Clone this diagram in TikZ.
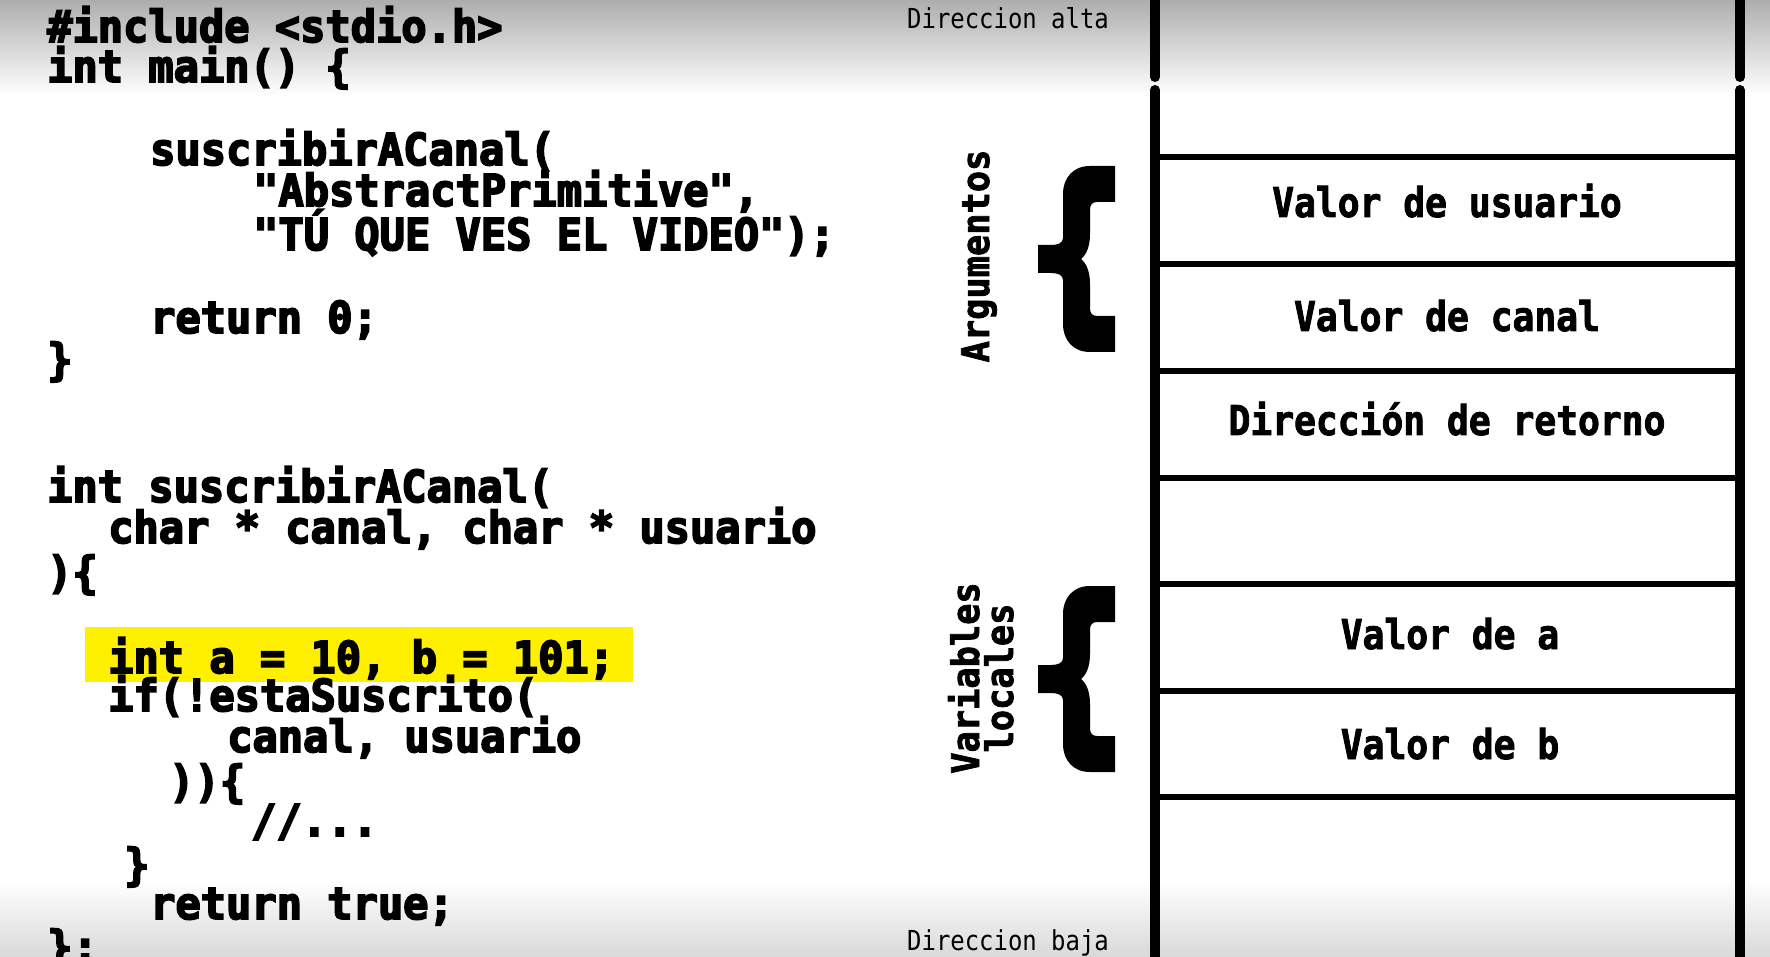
\documentclass[tikz,border=0pt]{standalone}
\usepackage{fontspec}
\newfontfamily\codefont{DejaVu Sans Mono Bold}[FakeStretch=0.955,FakeBold=4]
\newfontfamily\cellfont{DejaVu Sans Mono Bold}[FakeStretch=0.885,FakeBold=2]
\newfontfamily\dirfont{DejaVu Sans Mono}[FakeStretch=0.87]
\newfontfamily\sidefont{DejaVu Sans Mono Bold}[FakeStretch=0.93,FakeBold=2]
\definecolor{hlyellow}{RGB}{255,240,0}
\tikzset{
  code/.style={anchor=base west, inner sep=0pt, font=\codefont\fontsize{44}{44}\selectfont},
  celltext/.style={anchor=base, inner sep=0pt, font=\cellfont\fontsize{41}{41}\selectfont},
  dirtext/.style={anchor=base west, inner sep=0pt, font=\dirfont\fontsize{27.5}{27.5}\selectfont},
  sidetext/.style={anchor=base, inner sep=0pt, rotate=90, font=\sidefont\fontsize{38}{38}\selectfont},
  wall/.style={line width=10pt, line cap=round},
  shelf/.style={line width=6.5pt},
  bracefill/.style={fill=black}
}
\begin{document}
\begin{tikzpicture}[x=1pt,y=-1pt]
\useasboundingbox (0,0) rectangle (1770,957);
\clip (0,0) rectangle (1770,957);
\fill[white] (0,0) rectangle (1770,957);
\shade[top color=black!32, bottom color=white] (0,0) rectangle (1770,95);
\shade[top color=white, bottom color=black!15] (0,880) rectangle (1770,957);

% highlight
\fill[hlyellow] (85,627) rectangle (633,682);

% code
\node[code] (l1) at (47,42) {\#include <stdio.h>};
\node[code] (l2) at (47,82) {int main() \{};
\node[code] (l3) at (150,165) {suscribirACanal(};
\node[code] (l4) at (253,206) {"AbstractPrimitive",};
\node[code] (l5) at (253,250) {"TÚ QUE VES EL VIDEO");};
\node[code] (l6) at (150,333) {return 0;};
\node[code] (l7) at (47,375) {\}};
\node[code] (l8) at (47,502) {int suscribirACanal(};
\node[code] (l9) at (108,543) {char * canal, char * usuario};
\node[code] (l10) at (47,588) {)\{};
\node[code] (l11) at (108,673) {int a = 10, b = 101;};
\node[code] (l12) at (108,711) {if(!estaSuscrito(};
\node[code] (l13) at (227,752) {canal, usuario};
\node[code] (l14) at (169,797) {))\{};
\node[code] (l15) at (251,836) {//...};
\node[code] (l16) at (124,880) {\}};
\node[code] (l17) at (150,919) {return true;};
\node[code] (l18) at (47,962) {\};};

% address labels
\node[dirtext] (alta) at (907,29) {Direccion alta};
\node[dirtext] (baja) at (907,950) {Direccion baja};

% stack walls
\draw[wall] (1155,-10) -- (1155,77);
\draw[wall] (1155,90) -- (1155,970);
\draw[wall] (1740,-10) -- (1740,77);
\draw[wall] (1740,90) -- (1740,970);
\foreach \yy in {157,264,371,478,584,691,797}
  \draw[shelf] (1155,\yy) -- (1740,\yy);

% cell texts
\node[celltext] (usuario) at (1447,217) {Valor de usuario};
\node[celltext] (canal) at (1447,331) {Valor de canal};
\node[celltext] (retorno) at (1447,435) {Dirección de retorno};
\node[celltext] (va) at (1450,649) {Valor de a};
\node[celltext] (vb) at (1450,759) {Valor de b};

% side labels
\node[sidetext] (args) at (989,256) {Argumentos};
\node[sidetext] (vars) at (979,678) {Variables};
\node[sidetext] (locs) at (1013,678) {locales};

% braces
\foreach \bx/\by in {1115/166, 1115/586}{
\begin{scope}[shift={(\bx,\by)}]
\fill[bracefill] (0,0) -- (-25,0) .. controls (-42,0) and (-52,12) .. (-52,28)
 -- (-52,72) .. controls (-52,77) and (-57,79) .. (-64,79) -- (-77,79) -- (-77,107)
 -- (-64,107) .. controls (-57,107) and (-52,109) .. (-52,114) -- (-52,158)
 .. controls (-52,174) and (-42,186) .. (-25,186) -- (0,186) -- (0,150) -- (-18,150)
 .. controls (-23,150) and (-25,147) .. (-25,142) -- (-25,118)
 .. controls (-25,105) and (-29,97) .. (-34,93) .. controls (-29,89) and (-25,81) .. (-25,68)
 -- (-25,44) .. controls (-25,39) and (-23,36) .. (-18,36) -- (0,36) -- cycle;
\end{scope}}
\end{tikzpicture}
\end{document}
